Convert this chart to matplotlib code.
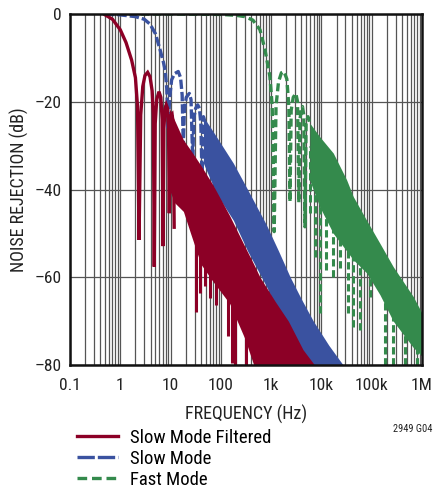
import numpy as np
import matplotlib
matplotlib.use('Agg')
import matplotlib.pyplot as plt
from matplotlib.lines import Line2D
from matplotlib.ticker import LogLocator, FixedLocator, FixedFormatter, NullFormatter

plt.rcParams['font.family'] = ['Roboto Condensed', 'DejaVu Sans']

RED = '#8c0026'
BLUE = '#3a52a0'
GREEN = '#348a4c'

# ---------------- data ----------------
x_ticks = [0.1, 1, 10, 100, 1e3, 1e4, 1e5, 1e6]
x_tick_labels = ['0.1', '1', '10', '100', '1k', '10k', '100k', '1M']
y_ticks = [-80, -60, -40, -20, 0]
y_tick_labels = ['\u201380', '\u201360', '\u201340', '\u201320', '0']

# Slow Mode Filtered: resolved lobes
red_lobe_f = [0.5, 0.7, 1.0, 1.3, 1.68, 2.0, 2.2, 2.36, 2.55, 2.8, 3.1, 3.5, 3.9, 4.3, 4.55,
              4.74, 4.95, 5.3, 5.88, 6.4, 6.8, 7.08, 7.35, 7.8, 8.2, 8.7, 9.1, 9.44, 9.8,
              10.3, 10.7, 11.3, 11.8]
red_lobe_db = [-0.2, -1.2, -3.6, -6.5, -10.5, -14.5, -21, -51.5, -23, -16.5, -14, -13.3, -14.3,
               -17.5, -23, -57.6, -25, -19.5, -17.7, -19, -24, -52.9, -26, -21.5, -20.7, -21.5,
               -26, -45.4, -27, -23, -22.8, -25, -48.6]
# Slow Mode Filtered: dense band
red_band_f = [9.5, 12, 18, 25, 40, 70, 150, 300, 450, 600, 1200, 2200, 4300, 7300]
red_band_top = [-21.5, -24.2, -28.7, -31, -34.5, -39, -46, -53, -57, -60, -65.5, -70, -76.5, -80]
red_band_bot = [-40, -43, -45, -50, -57, -61, -66, -74, -80, -80, -80, -80, -80, -80]
red_spike_f = [31.7, 38.6, 48, 60.5, 80, 111, 137, 164, 190, 280, 323]
red_spike_top = [-45, -50, -52, -55, -58, -60, -62, -62, -63, -66, -68]
red_spike_bot = [-68, -63.6, -62, -64.7, -66.3, -61, -73.5, -79.6, -80, -69, -80]

# Slow Mode: resolved lobes
blue_lobe_f = [0.5, 1.0, 2.0, 3.0, 3.9, 5.0, 6.2, 7.2, 7.8, 8.4, 9.0, 9.6, 10.5, 12, 14.2, 15.8,
               17.0, 17.9, 18.8, 20.5, 23.6, 25.5, 27.5, 29.2, 31.5, 34.6, 37.5, 40, 42, 45, 48]
blue_lobe_db = [0, -0.2, -0.6, -1.2, -2.3, -4.5, -8.2, -11, -12.8, -17, -26, -19, -15, -13.6,
                -13.1, -14.5, -18.5, -30, -22, -19, -18.1, -19.5, -33, -23.5, -21.5, -20.7,
                -21.5, -25, -36, -23.4, -24.5]
# Slow Mode: dense band
blue_band_f = [45, 82, 177, 340, 800, 1400, 2400, 4000, 6900, 14000, 27000]
blue_band_top = [-23.4, -28, -34, -40, -48, -54, -60, -65, -70, -75.5, -80]
blue_band_bot = [-34, -41, -47, -54, -62, -68, -78, -80, -80, -80, -80]

# Fast Mode: resolved lobes
green_lobe_f = [0.5, 10, 100, 200, 300, 434, 600, 756, 946, 1050, 1150, 1250, 1400, 1600, 1800,
                2050, 2250, 2370, 2500, 2750, 3100, 3350, 3550, 3750, 4000, 4200, 4450, 4700,
                4950, 5400, 5900]
green_lobe_db = [0, 0, -0.1, -0.3, -0.6, -1.4, -3.6, -8.2, -14.3, -21, -49.6, -21, -15.5, -13.4,
                 -13.1, -14.8, -21, -42.8, -22, -19, -18.1, -20, -43, -24, -21.5, -21.1, -23,
                 -48.5, -25, -23.4, -25]
# Fast Mode: dense band
green_band_f = [5900, 9300, 17200, 31700, 42900, 79000, 146000, 268000, 670000, 1000000]
green_band_top = [-24.9, -28, -31.7, -37.8, -41.6, -47, -52.3, -57.6, -64.4, -68.2]
green_band_bot = [-38, -44, -50, -54, -56, -59, -64, -70, -76, -78]
green_spike_f = [5900, 7400, 9300, 12300, 16800, 23100, 33400, 42000, 58000, 93000,
                 185000, 267000, 465000, 805000]
green_spike_top = [-30, -32, -35, -40, -45, -48, -50, -52, -55, -60, -65, -68, -72, -74]
green_spike_bot = [-45.4, -55.3, -68.2, -58.3, -59.9, -58, -68.2, -71.3, -72, -64.4,
                   -80, -80, -80, -80]

labels = ['Slow Mode Filtered', 'Slow Mode', 'Fast Mode']

# ---------------- figure ----------------
W, H = 433, 490
fig = plt.figure(figsize=(W / 100, H / 100), dpi=100)
ax = fig.add_axes([70 / W, 1 - 365 / H, 352 / W, 351 / H])
ax.set_xscale('log')
ax.set_xlim(0.1, 1e6)
ax.set_ylim(-80, 0)

ax.xaxis.set_major_locator(FixedLocator(x_ticks))
ax.xaxis.set_major_formatter(FixedFormatter(x_tick_labels))
ax.xaxis.set_minor_locator(LogLocator(base=10, subs=np.arange(2, 10)))
ax.xaxis.set_minor_formatter(NullFormatter())
ax.yaxis.set_major_locator(FixedLocator(y_ticks))
ax.yaxis.set_major_formatter(FixedFormatter(y_tick_labels))

ax.grid(which='both', axis='x', color='#555555', lw=0.9, zorder=1)
ax.grid(which='major', axis='y', color='#555555', lw=0.9, zorder=1)
ax.set_axisbelow(True)
ax.tick_params(which='both', length=0, labelsize=12.5, colors='#222222')
ax.tick_params(axis='x', pad=9)
ax.tick_params(axis='y', pad=6)
for s in ax.spines.values():
    s.set_linewidth(1.8)
    s.set_color('#111111')
    s.set_zorder(10)

LW = 2.4
# Fast Mode (green, bottom)
ax.fill_between(green_band_f, green_band_bot, green_band_top, color=GREEN, lw=0, zorder=2)
ax.vlines(green_spike_f, green_spike_bot, green_spike_top, colors=GREEN, lw=2.2,
          linestyles=[(0, (2.4, 1.2))], zorder=2)
ax.plot(green_lobe_f, green_lobe_db, color=GREEN, lw=LW, dashes=(2.4, 1.2), zorder=2)

# Slow Mode (blue)
ax.fill_between(blue_band_f, blue_band_bot, blue_band_top, color=BLUE, lw=0, zorder=3)
ax.plot(blue_lobe_f, blue_lobe_db, color=BLUE, lw=LW, dashes=(2.8, 0.9), zorder=3)

# Slow Mode Filtered (red, top)
ax.fill_between(red_band_f, red_band_bot, red_band_top, color=RED, lw=0, zorder=4)
ax.vlines(red_spike_f, red_spike_bot, red_spike_top, colors=RED, lw=2.2, zorder=4)
ax.plot(red_lobe_f, red_lobe_db, color=RED, lw=LW, solid_joinstyle='miter', zorder=4)

ax.set_xlabel('FREQUENCY (Hz)', fontsize=13, color='#222222', labelpad=9)
ax.set_ylabel('NOISE REJECTION (dB)', fontsize=13, color='#222222', labelpad=4)

handles = [Line2D([], [], color=RED, lw=LW),
           Line2D([], [], color=BLUE, lw=LW, dashes=(5.2, 0.9)),
           Line2D([], [], color=GREEN, lw=LW, dashes=(2.9, 1.45))]
ax.legend(handles, labels, loc='upper left', bbox_to_anchor=(77 / W, 1 - 429 / H),
          bbox_transform=fig.transFigure, frameon=False, fontsize=13.5,
          handlelength=2.2, handletextpad=0.6, labelspacing=0.15, borderpad=0,
          borderaxespad=0)

fig.text(432 / W, 1 - 429 / H, '2949 G04', fontsize=7.5, ha='right', va='center',
         color='#222222')

fig.savefig('out.png', dpi=100)
